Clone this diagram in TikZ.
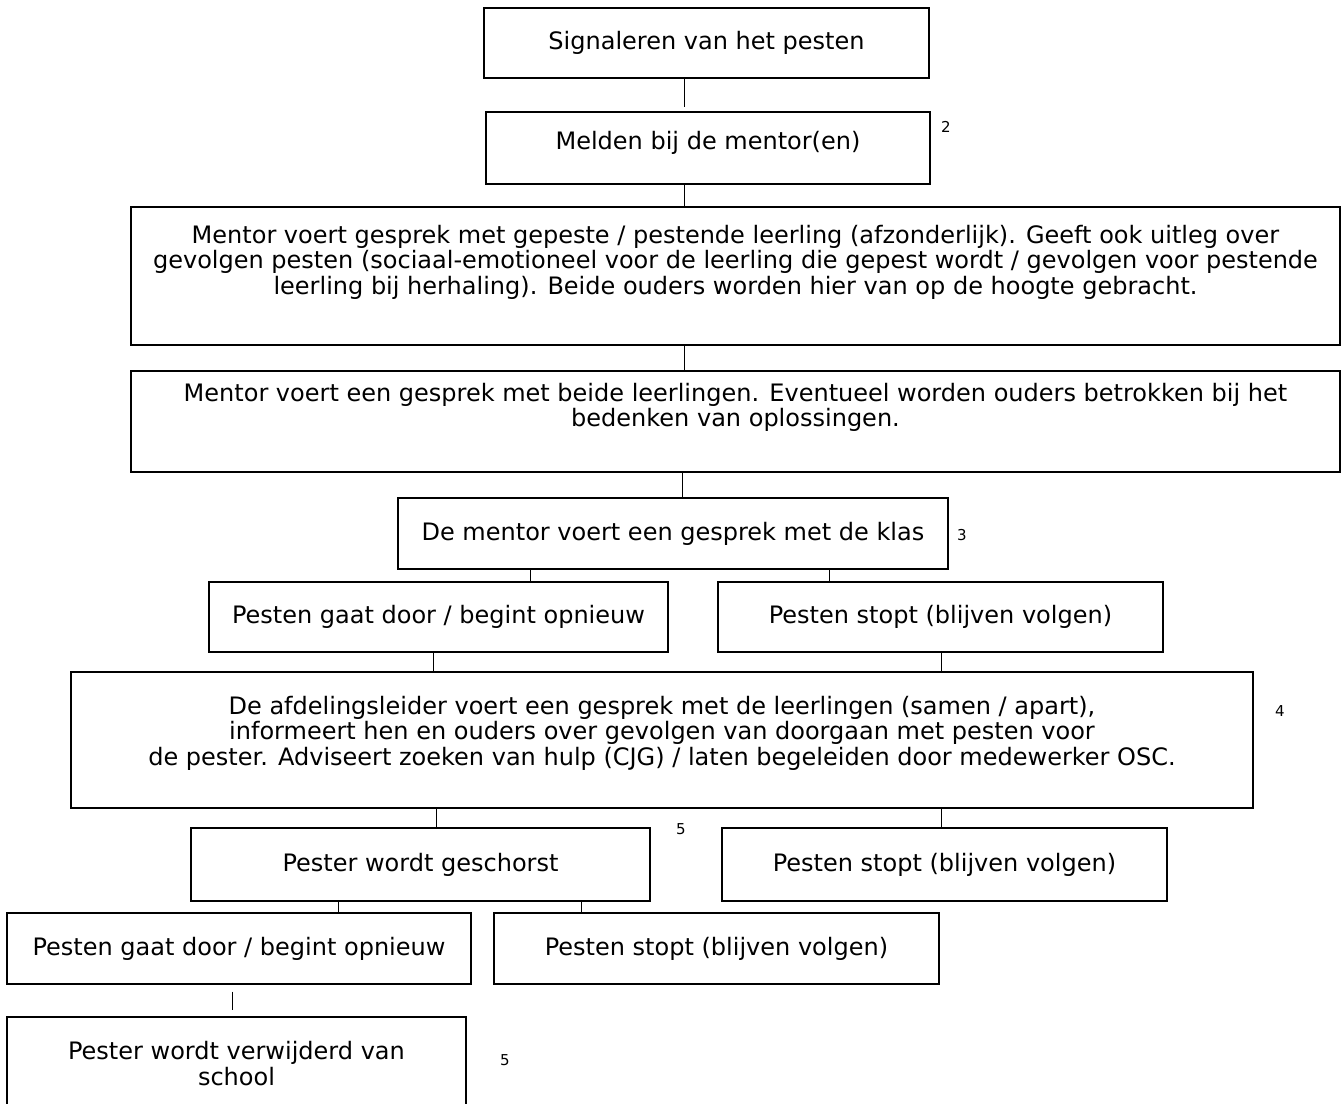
\documentclass[tikz,border=0pt]{standalone}
\usepackage{fontspec}
\setmainfont{DejaVu Sans}
\usetikzlibrary{positioning}
\tikzset{
  stap/.style={
    rectangle, draw=black, line width=0.6pt, fill=white,
    align=center, inner sep=0pt, font=\fontsize{12}{12.7}\selectfont
  },
  lijn/.style={line width=0.45pt, draw=black},
  voetnoot/.style={font=\fontsize{7.5}{8}\selectfont, inner sep=0pt}
}

\begin{document}
\begin{tikzpicture}[x=0.5pt, y=-0.5pt]
\fill[white] (0,0) rectangle (1341,1104);
\useasboundingbox (0,0) rectangle (1341,1104);

% Signaleren en melden
\node[stap, minimum width=222.5pt, minimum height=35pt] (signaal) at (706.5,43) {Signaleren van het pesten};
\node[stap, minimum width=222pt, minimum height=36pt, text depth=8pt] (melden) at (708,148) {Melden bij de mentor(en)};
\node[voetnoot] (n2) at (946,127) {2};

% Gesprekken door de mentor
\node[stap, minimum width=604.5pt, minimum height=69pt] (apart) at (735.5,276) {Mentor voert gesprek met gepeste / pestende leerling (afzonderlijk). Geeft ook uitleg over\\gevolgen pesten (sociaal-emotioneel voor de leerling die gepest wordt / gevolgen voor pestende\\leerling bij herhaling). Beide ouders worden hier van op de hoogte gebracht.\\ \strut};
\node[stap, minimum width=604.5pt, minimum height=50.5pt] (samen) at (735.5,421.5) {Mentor voert een gesprek met beide leerlingen. Eventueel worden ouders betrokken bij het\\bedenken van oplossingen.\\ \strut};
\node[stap, minimum width=275pt, minimum height=35.5pt] (klas) at (673,533.5) {De mentor voert een gesprek met de klas};
\node[voetnoot] (n3) at (962,535) {3};

% Eerste splitsing
\node[stap, minimum width=229.5pt, minimum height=35pt] (door1) at (438.5,617) {Pesten gaat door / begint opnieuw};
\node[stap, minimum width=222.5pt, minimum height=35pt] (stop1) at (940.5,617) {Pesten stopt (blijven volgen)};

% Afdelingsleider
\node[stap, minimum width=591pt, minimum height=68pt] (afdeling) at (662,740) {De afdelingsleider voert een gesprek met de leerlingen (samen / apart),\\informeert hen en ouders over gevolgen van doorgaan met pesten voor\\de pester. Adviseert zoeken van hulp (CJG) / laten begeleiden door medewerker OSC.\\[-7pt] \strut};
\node[voetnoot] (n4) at (1280,711) {4};

% Tweede splitsing
\node[stap, minimum width=229.5pt, minimum height=36.5pt] (schors) at (420.5,864.5) {Pester wordt geschorst};
\node[stap, minimum width=222.5pt, minimum height=36.5pt] (stop2) at (944.5,864.5) {Pesten stopt (blijven volgen)};
\node[voetnoot] (n5a) at (681,829) {5};

% Na schorsing
\node[stap, minimum width=232pt, minimum height=35.5pt] (door2) at (239,948.5) {Pesten gaat door / begint opnieuw};
\node[stap, minimum width=222.5pt, minimum height=35.5pt] (stop3) at (716.5,948.5) {Pesten stopt (blijven volgen)};
\node[stap, minimum width=229.5pt, minimum height=46.5pt] (verwijder) at (236.5,1063.5) {Pester wordt verwijderd van\\school};
\node[voetnoot] (n5b) at (505,1060) {5};

% Verbindingslijnen
\draw[lijn, shorten >=2pt] (signaal.south -| 684,0) -- (melden.north -| 684,0);
\draw[lijn] (melden.south -| 684,0) -- (apart.north -| 684,0);
\draw[lijn] (apart.south -| 684,0) -- (samen.north -| 684,0);
\draw[lijn] (samen.south -| 682,0) -- (klas.north -| 682,0);
\draw[lijn] (klas.south -| 530,0) -- (door1.north -| 530,0);
\draw[lijn] (klas.south -| 829,0) -- (stop1.north -| 829,0);
\draw[lijn] (door1.south -| 433,0) -- (afdeling.north -| 433,0);
\draw[lijn] (stop1.south -| 941,0) -- (afdeling.north -| 941,0);
\draw[lijn] (afdeling.south -| 436,0) -- (schors.north -| 436,0);
\draw[lijn] (afdeling.south -| 941,0) -- (stop2.north -| 941,0);
\draw[lijn] (schors.south -| 338,0) -- (door2.north -| 338,0);
\draw[lijn] (schors.south -| 581,0) -- (stop3.north -| 581,0);
\draw[lijn, shorten <=3.5pt, shorten >=3pt] (door2.south -| 232,0) -- (verwijder.north -| 232,0);

\end{tikzpicture}
\end{document}
